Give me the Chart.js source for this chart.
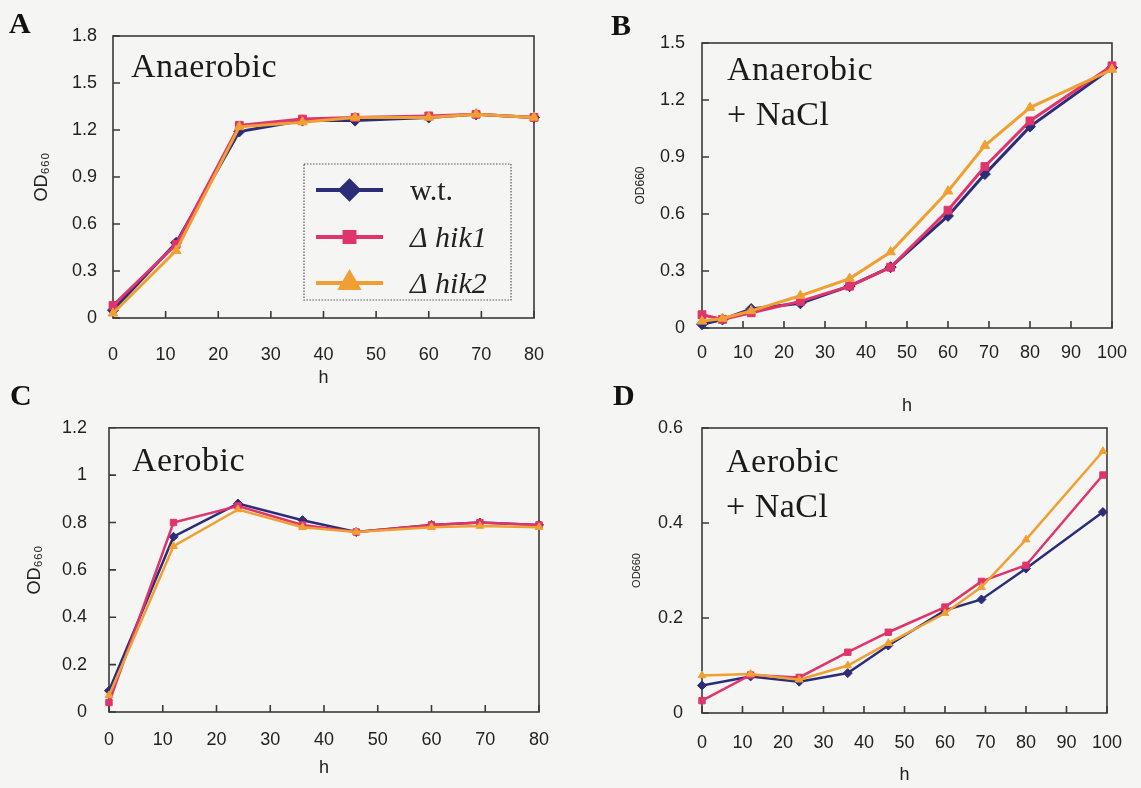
<!DOCTYPE html>
<html lang="en">
<head>
<meta charset="UTF-8">
<title>Growth of w.t., hik1 and hik2 mutants</title>
<script src="https://cdn.jsdelivr.net/npm/chart.js"></script>
<style>
  body { margin: 0; background: #f5f5f4; width: 1141px; height: 788px; position: relative; overflow: hidden; }
  .panel { position: absolute; }
  .letter { position: absolute; font: bold 30px "Liberation Serif", serif; line-height: 30px; color: #111; }
  .cond { position: absolute; font: 34px "Liberation Serif", serif; line-height: 45px; color: #1a1a1a; letter-spacing: 0.5px; }
</style>
</head>
<body>
<div class="panel" style="left:0;top:0"><canvas id="chartA" width="570" height="395"></canvas></div>
<div class="panel" style="left:570px;top:0"><canvas id="chartB" width="571" height="420"></canvas></div>
<div class="panel" style="left:0;top:395px"><canvas id="chartC" width="570" height="393"></canvas></div>
<div class="panel" style="left:570px;top:395px"><canvas id="chartD" width="571" height="393"></canvas></div>

<div class="letter" style="left:9px;top:8px">A</div>
<div class="letter" style="left:611px;top:10px">B</div>
<div class="letter" style="left:10px;top:380px">C</div>
<div class="letter" style="left:613px;top:380px">D</div>

<div class="cond" style="left:131px;top:43px">Anaerobic</div>
<div class="cond" style="left:727px;top:46px">Anaerobic<br>+ NaCl</div>
<div class="cond" style="left:132px;top:437px">Aerobic</div>
<div class="cond" style="left:726px;top:438px">Aerobic<br>+ NaCl</div>

<script>
// strains
const strains = ['w.t.', 'Δ hik1', 'Δ hik2'];

// A: anaerobic
const hoursA = [0, 12, 24, 36, 46, 60, 69, 80];
const wtA   = [0.05, 0.48, 1.19, 1.26, 1.26, 1.28, 1.30, 1.28];
const hik1A = [0.08, 0.47, 1.23, 1.27, 1.28, 1.29, 1.30, 1.28];
const hik2A = [0.03, 0.43, 1.22, 1.25, 1.28, 1.28, 1.30, 1.28];

// B: anaerobic + NaCl
const hoursB = [0, 5, 12, 24, 36, 46, 60, 69, 80, 100];
const wtB   = [0.02, 0.045, 0.10, 0.13, 0.22, 0.32, 0.59, 0.81, 1.06, 1.37];
const hik1B = [0.07, 0.045, 0.08, 0.14, 0.22, 0.32, 0.62, 0.85, 1.09, 1.38];
const hik2B = [0.035, 0.05, 0.09, 0.17, 0.26, 0.40, 0.72, 0.96, 1.16, 1.36];

// C: aerobic
const hoursC = [0, 12, 24, 36, 46, 60, 69, 80];
const wtC   = [0.09, 0.74, 0.88, 0.81, 0.76, 0.79, 0.80, 0.79];
const hik1C = [0.04, 0.80, 0.87, 0.79, 0.76, 0.79, 0.80, 0.79];
const hik2C = [0.07, 0.70, 0.855, 0.78, 0.76, 0.78, 0.785, 0.78];

// D: aerobic + NaCl
const hoursD = [0, 12, 24, 36, 46, 60, 69, 80, 99];
const wtD   = [0.058, 0.077, 0.066, 0.084, 0.142, 0.216, 0.239, 0.304, 0.423];
const hik1D = [0.026, 0.080, 0.075, 0.128, 0.170, 0.223, 0.277, 0.311, 0.501];
const hik2D = [0.079, 0.082, 0.070, 0.100, 0.147, 0.210, 0.265, 0.365, 0.551];

const colors = ['#2c2d78', '#e0346c', '#f0a033'];
const shapes = ['rectRot', 'rect', 'triangle'];

Chart.defaults.font.family = '"Liberation Sans", sans-serif';
Chart.defaults.font.size = 18;
Chart.defaults.color = '#222';

// box around plot + short inward ticks
const framePlugin = {
  id: 'frame',
  beforeDatasetsDraw(chart) {
    const { ctx, chartArea: a, scales: { x, y } } = chart;
    ctx.save();
    ctx.strokeStyle = '#3a3a3a';
    ctx.lineWidth = 1.6;
    ctx.strokeRect(a.left, a.top, a.right - a.left, a.bottom - a.top);
    ctx.beginPath();
    x.ticks.forEach(t => {
      const px = x.getPixelForValue(t.value);
      ctx.moveTo(px, a.bottom); ctx.lineTo(px, a.bottom - 7);
    });
    y.ticks.forEach(t => {
      const py = y.getPixelForValue(t.value);
      ctx.moveTo(a.left, py); ctx.lineTo(a.left + 7, py);
    });
    ctx.stroke();
    ctx.restore();
  }
};

// legend box drawn inside panel A
const boxLegend = {
  id: 'boxLegend',
  afterDatasetsDraw(chart, args, o) {
    if (!o.show) return;
    const ctx = chart.ctx;
    ctx.save();
    ctx.setLineDash([1.5, 1.5]);
    ctx.strokeStyle = '#555';
    ctx.lineWidth = 1.2;
    ctx.strokeRect(o.left, o.top, o.width, o.height);
    ctx.setLineDash([]);
    chart.data.datasets.forEach((ds, i) => {
      const cy = o.rows[i];
      ctx.strokeStyle = ds.borderColor;
      ctx.lineWidth = 4;
      ctx.beginPath();
      ctx.moveTo(o.lineFrom, cy); ctx.lineTo(o.lineTo, cy);
      ctx.stroke();
      Chart.helpers.drawPoint(ctx, {
        pointStyle: ds.pointStyle, radius: o.radius[i], rotation: 0,
        borderWidth: 1
      }, (o.lineFrom + o.lineTo) / 2, cy);
      ctx.fillStyle = ds.borderColor;
      ctx.fill();
      ctx.fillStyle = '#222';
      ctx.font = (i === 0 ? '' : 'italic ') + '30px "Liberation Serif", serif';
      ctx.textBaseline = 'alphabetic';
      ctx.fillText(ds.label, o.textX, cy + 10);
    });
    ctx.restore();
  }
};

function makeChart(id, hours, series, g) {
  const datasets = series.map((vals, i) => ({
    label: strains[i],
    data: hours.map((h, k) => ({ x: h, y: vals[k] })),
    borderColor: colors[i],
    backgroundColor: colors[i],
    pointStyle: shapes[i],
    pointRadius: g.radius,
    pointBorderWidth: 1,
    borderWidth: g.lineWidth,
    tension: 0,
    clip: false,
    order: 2 - i
  }));
  return new Chart(document.getElementById(id), {
    type: 'line',
    data: { datasets },
    plugins: [framePlugin, boxLegend],
    options: {
      responsive: false,
      animation: false,
      events: [],
      layout: { padding: { top: g.top, right: g.right, left: 0, bottom: 0 } },
      plugins: {
        legend: { display: false },
        tooltip: { enabled: false },
        boxLegend: g.legend || { show: false }
      },
      scales: {
        x: {
          type: 'linear', min: 0, max: g.xMax,
          grid: { display: false, drawTicks: false },
          border: { display: false },
          ticks: { stepSize: 10, padding: g.xPad },
          title: { display: true, text: 'h', font: { size: 18 }, padding: { top: 0, bottom: g.hPad } },
          afterFit(s) { s.height = g.xH; }
        },
        y: {
          min: 0, max: g.yMax,
          grid: { display: false, drawTicks: false },
          border: { display: false },
          ticks: { stepSize: g.yStep, padding: g.yPad, callback: v => String(+v.toFixed(2)) },
          title: { display: true, text: g.yTitle, font: { size: g.yTitleSize }, padding: { top: g.odPad, bottom: 0 } },
          afterFit(s) { s.width = g.yW; }
        }
      }
    }
  });
}

makeChart('chartA', hoursA, [wtA, hik1A, hik2A], {
  top: 36, right: 31, xH: 77, yW: 113, xMax: 80, yMax: 1.8, yStep: 0.3,
  xPad: 26, yPad: 16, hPad: 6, odPad: 31, yTitle: 'OD₆₆₀', yTitleSize: 18,
  radius: 5.5, lineWidth: 3,
  legend: { show: true, left: 304, top: 164, width: 207, height: 136,
            rows: [190, 237, 283], lineFrom: 316, lineTo: 383, textX: 410, radius: [9, 7, 10] }
});

makeChart('chartB', hoursB, [wtB, hik1B, hik2B], {
  top: 43, right: 22, xH: 92, yW: 132, xMax: 100, yMax: 1.5, yStep: 0.3,
  xPad: 14, yPad: 17, hPad: 3, odPad: 63, yTitle: 'OD660', yTitleSize: 12,
  radius: 5.5, lineWidth: 3
});

makeChart('chartC', hoursC, [wtC, hik1C, hik2C], {
  top: 30, right: 31, xH: 76, yW: 109, xMax: 80, yMax: 1.2, yStep: 0.2,
  xPad: 17, yPad: 22, hPad: 9, odPad: 24, yTitle: 'OD₆₆₀', yTitleSize: 18,
  radius: 4.5, lineWidth: 2.5
});

makeChart('chartD', hoursD, [wtD, hik1D, hik2D], {
  top: 33, right: 28, xH: 75, yW: 132, xMax: 100, yMax: 0.6, yStep: 0.2,
  xPad: 19, yPad: 19, hPad: 2, odPad: 60, yTitle: 'OD660', yTitleSize: 11,
  radius: 4.5, lineWidth: 2.5
});
</script>
</body>
</html>
